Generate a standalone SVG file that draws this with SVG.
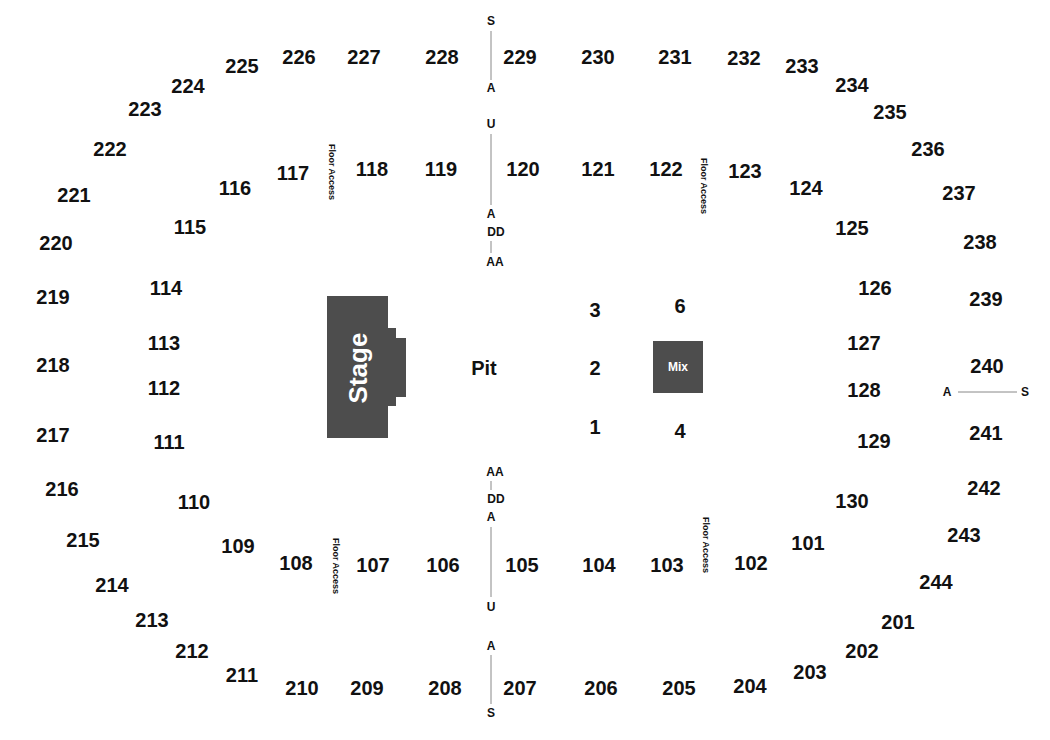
<svg xmlns="http://www.w3.org/2000/svg" width="1050" height="740" viewBox="0 0 1050 740">
<style>
.s{font-family:"Liberation Sans",Arial,sans-serif;font-weight:bold;font-size:20px;fill:#111;text-anchor:middle;dominant-baseline:central}
.a{font-family:"Liberation Sans",Arial,sans-serif;font-weight:bold;font-size:12px;fill:#111;text-anchor:middle;dominant-baseline:central}
.f{font-family:"Liberation Sans",Arial,sans-serif;font-weight:bold;font-size:9px;fill:#111;text-anchor:middle;dominant-baseline:central}
.l{stroke:#888;stroke-width:1}
</style>
<rect width="1050" height="740" fill="#fff"/>
<g id="stage"><path d="M327 296H388V328H396V338H406V397H396V406H388V438H327Z" fill="#4d4d4d"/><text class="s" transform="translate(358,368) rotate(-90)" fill="#fff" style="fill:#fff;font-size:26px">Stage</text></g>
<g id="mix"><rect x="653" y="341" width="50" height="52" fill="#4d4d4d"/><text class="a" x="678" y="367" style="fill:#fff">Mix</text></g>
<g id="pit"><text class="s" x="484" y="368">Pit</text></g>
<g id="connectors">
<line class="l" x1="491" y1="31" x2="491" y2="80"/>
<line class="l" x1="491" y1="134" x2="491" y2="205"/>
<line class="l" x1="491" y1="241" x2="491" y2="253"/>
<line class="l" x1="491" y1="481" x2="491" y2="490"/>
<line class="l" x1="491" y1="527" x2="491" y2="597"/>
<line class="l" x1="491" y1="655" x2="491" y2="704"/>
<line class="l" x1="958" y1="392" x2="1017" y2="392"/>
</g>
<g id="aisles">
<text class="a" x="491" y="21">S</text><text class="a" x="491" y="88">A</text><text class="a" x="491" y="124">U</text><text class="a" x="491" y="214">A</text><text class="a" x="496" y="232">DD</text><text class="a" x="495" y="262">AA</text>
<text class="a" x="495" y="472">AA</text><text class="a" x="496" y="499">DD</text><text class="a" x="491" y="517">A</text><text class="a" x="491" y="607">U</text><text class="a" x="491" y="646">A</text><text class="a" x="491" y="713">S</text>
<text class="a" x="947" y="392">A</text><text class="a" x="1025" y="392">S</text>
<text class="f" transform="translate(332,172) rotate(90)">Floor Access</text>
<text class="f" transform="translate(704,186) rotate(90)">Floor Access</text>
<text class="f" transform="translate(336,566) rotate(90)">Floor Access</text>
<text class="f" transform="translate(706,545) rotate(90)">Floor Access</text>
</g>
<g id="sections">
<text class="s" x="595" y="310">3</text><text class="s" x="680" y="306">6</text><text class="s" x="595" y="368">2</text><text class="s" x="595" y="427">1</text><text class="s" x="680" y="431">4</text>
<text class="s" x="242" y="66">225</text><text class="s" x="299" y="57">226</text><text class="s" x="364" y="57">227</text><text class="s" x="442" y="57">228</text><text class="s" x="520" y="57">229</text><text class="s" x="598" y="57">230</text><text class="s" x="675" y="57">231</text><text class="s" x="744" y="58">232</text><text class="s" x="802" y="66">233</text><text class="s" x="852" y="85">234</text><text class="s" x="890" y="112">235</text><text class="s" x="928" y="149">236</text><text class="s" x="959" y="193">237</text><text class="s" x="980" y="242">238</text><text class="s" x="986" y="299">239</text><text class="s" x="987" y="366">240</text><text class="s" x="986" y="433">241</text><text class="s" x="984" y="488">242</text><text class="s" x="964" y="535">243</text><text class="s" x="936" y="582">244</text><text class="s" x="898" y="622">201</text><text class="s" x="862" y="651">202</text><text class="s" x="810" y="672">203</text><text class="s" x="750" y="686">204</text><text class="s" x="679" y="688">205</text><text class="s" x="601" y="688">206</text><text class="s" x="520" y="688">207</text><text class="s" x="445" y="688">208</text><text class="s" x="367" y="688">209</text><text class="s" x="302" y="688">210</text><text class="s" x="242" y="675">211</text><text class="s" x="192" y="651">212</text><text class="s" x="152" y="620">213</text><text class="s" x="112" y="585">214</text><text class="s" x="83" y="540">215</text><text class="s" x="62" y="489">216</text><text class="s" x="53" y="435">217</text><text class="s" x="53" y="365">218</text><text class="s" x="53" y="297">219</text><text class="s" x="56" y="243">220</text><text class="s" x="74" y="195">221</text><text class="s" x="110" y="149">222</text><text class="s" x="145" y="109">223</text><text class="s" x="188" y="86">224</text>
<text class="s" x="293" y="173">117</text><text class="s" x="372" y="169">118</text><text class="s" x="441" y="169">119</text><text class="s" x="523" y="169">120</text><text class="s" x="598" y="169">121</text><text class="s" x="666" y="169">122</text><text class="s" x="745" y="171">123</text><text class="s" x="806" y="188">124</text><text class="s" x="852" y="228">125</text><text class="s" x="875" y="288">126</text><text class="s" x="864" y="343">127</text><text class="s" x="864" y="390">128</text><text class="s" x="874" y="441">129</text><text class="s" x="852" y="501">130</text><text class="s" x="808" y="543">101</text><text class="s" x="751" y="563">102</text><text class="s" x="667" y="565">103</text><text class="s" x="599" y="565">104</text><text class="s" x="522" y="565">105</text><text class="s" x="443" y="565">106</text><text class="s" x="373" y="565">107</text><text class="s" x="296" y="563">108</text><text class="s" x="238" y="546">109</text><text class="s" x="194" y="502">110</text><text class="s" x="169" y="442">111</text><text class="s" x="164" y="388">112</text><text class="s" x="164" y="343">113</text><text class="s" x="166" y="288">114</text><text class="s" x="190" y="227">115</text><text class="s" x="235" y="188">116</text>
</g>
</svg>
